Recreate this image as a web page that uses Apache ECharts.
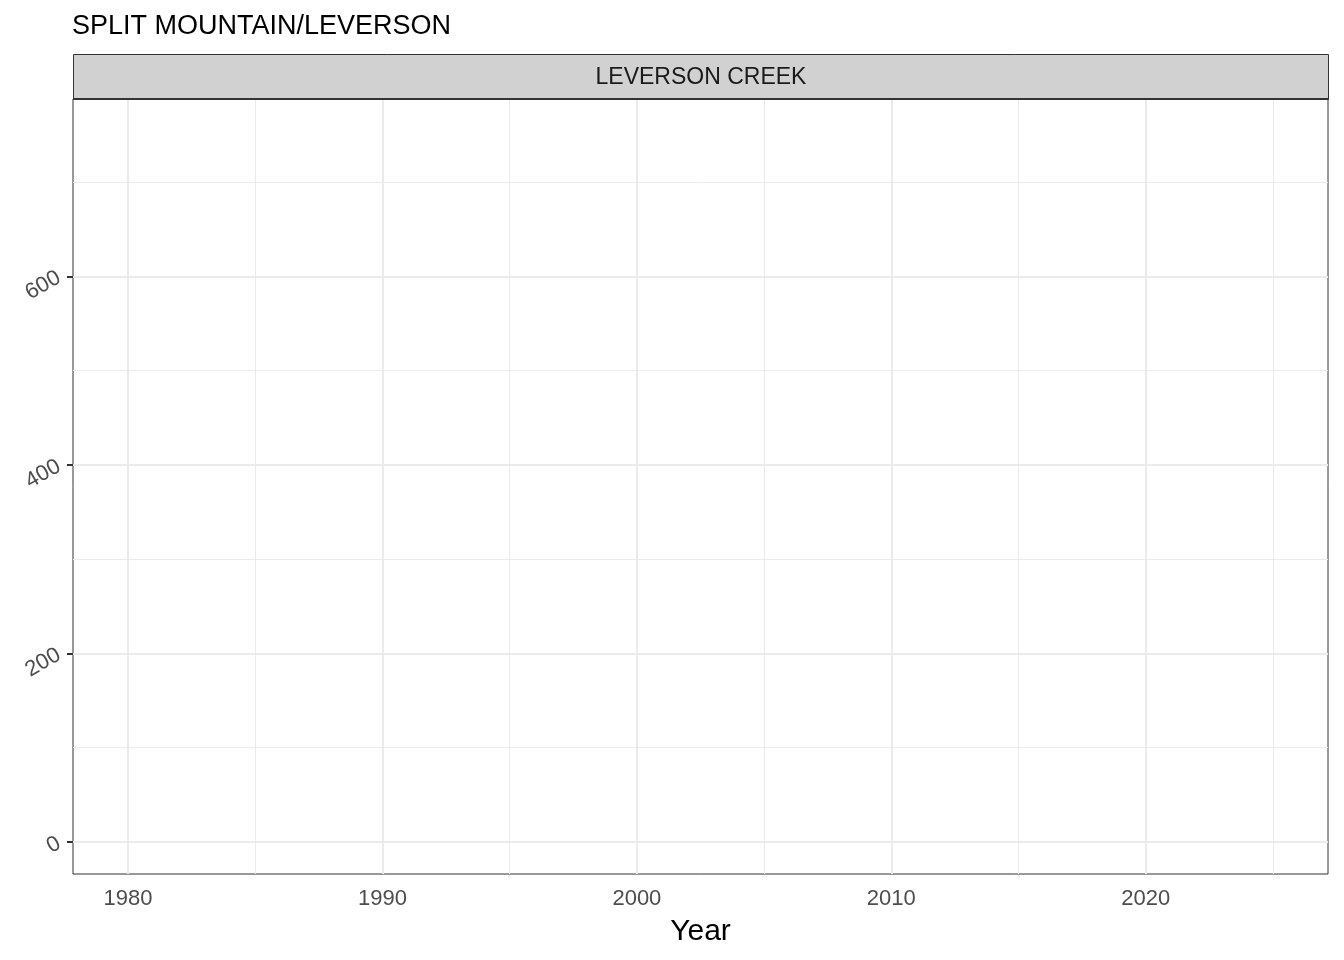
<!DOCTYPE html>
<html><head><meta charset="utf-8">
<script src="https://cdn.jsdelivr.net/npm/echarts@6/dist/echarts.min.js"></script>
<style>html,body{margin:0;padding:0;background:#fff}#c{width:1344px;height:960px}</style>
</head><body><div id="c"></div>
<script>
// Data (the reference panel contains no observations)
const years = [];
const values = [];
const chartTitle = 'SPLIT MOUNTAIN/LEVERSON';
const panelLabel = 'LEVERSON CREEK';
const xTicks = [1980, 1990, 2000, 2010, 2020];
const xMinor = [1985, 1995, 2005, 2015, 2025];
const yTicks = [0, 200, 400, 600];
const yMinor = [100, 300, 500, 700];
const xRange = [1977.84, 2027.16];
const yRange = [-34, 788];

const FONT = 'Liberation Sans, Arial, sans-serif';
const chart = echarts.init(document.getElementById('c'), null, {renderer: 'canvas'});
const gl = (v, axis, w) => ({[axis]: v, lineStyle: {color: '#ebebeb', width: w, type: 'solid'}});
const gridLines = [
  ...xMinor.map(v => gl(v, 'xAxis', 1)),
  ...yMinor.map(v => gl(v, 'yAxis', 1)),
  ...xTicks.map(v => gl(v, 'xAxis', 2)),
  ...yTicks.map(v => gl(v, 'yAxis', 2))
];
chart.setOption({
  animation: false,
  backgroundColor: '#fff',
  textStyle: {fontFamily: FONT},
  title: {text: chartTitle, left: 72, top: 13, padding: 0, textStyle: {fontSize: 27, fontWeight: 'normal', color: '#000', fontFamily: FONT}},
  grid: {left: 73, right: 16, top: 99, bottom: 86, show: true, borderColor: '#333', borderWidth: 1, backgroundColor: '#fff'},
  graphic: [
    {type: 'rect', left: 73, top: 54, shape: {width: 1255, height: 45}, style: {fill: '#d1d1d1', stroke: '#333', lineWidth: 1}, z: 10},
    {type: 'line', shape: {x1: 73, y1: 99, x2: 1328, y2: 99}, style: {stroke: '#333', lineWidth: 2}, z: 11},
    {type: 'text', x: 701, y: 78, style: {text: panelLabel, fontSize: 23, fill: '#1a1a1a', fontFamily: FONT, align: 'center', verticalAlign: 'middle'}, z: 12}
  ],
  xAxis: {
    type: 'value', min: xRange[0], max: xRange[1],
    name: 'Year', nameLocation: 'middle', nameGap: 43,
    nameTextStyle: {fontSize: 30, color: '#000', fontFamily: FONT},
    axisLine: {show: false},
    axisTick: {show: true, customValues: xTicks, length: 6, lineStyle: {color: '#333', width: 2}},
    axisLabel: {customValues: xTicks, fontSize: 22, color: '#4d4d4d', margin: 14, formatter: v => String(v)},
    splitLine: {show: false}
  },
  yAxis: {
    type: 'value', min: yRange[0], max: yRange[1],
    axisLine: {show: false},
    axisTick: {show: true, customValues: yTicks, length: 6, lineStyle: {color: '#333', width: 2}},
    axisLabel: {customValues: yTicks, fontSize: 22, color: '#4d4d4d', margin: 14, rotate: 30, formatter: v => String(v)},
    splitLine: {show: false}
  },
  series: [{
    type: 'scatter',
    data: years.map((y, i) => [y, values[i]]),
    symbolSize: 6,
    itemStyle: {color: '#000'},
    markLine: {silent: true, symbol: ['none', 'none'], label: {show: false}, data: gridLines, z: 1},
    z: 3
  }]
});
</script></body></html>
